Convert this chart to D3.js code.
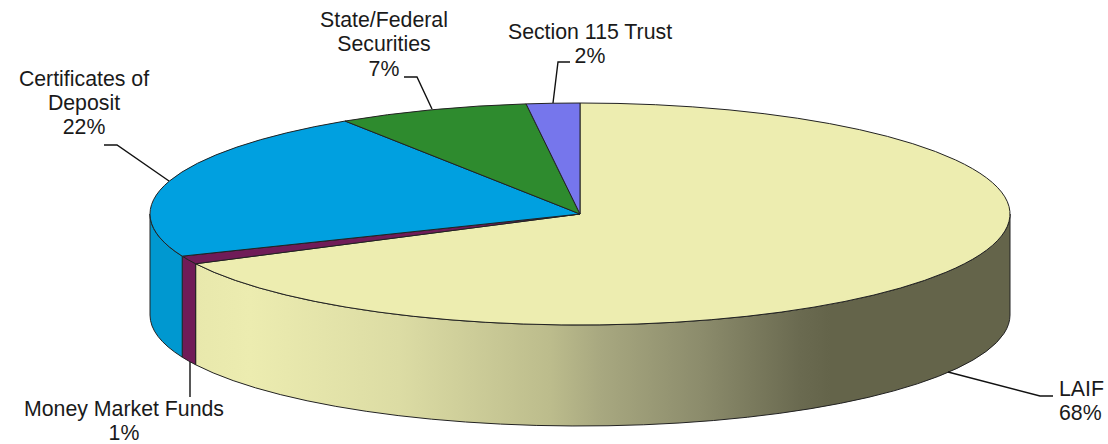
<!DOCTYPE html>
<html>
<head>
<meta charset="utf-8">
<script src="https://cdn.jsdelivr.net/npm/d3@7"></script>
<style>
  html, body { margin: 0; padding: 0; background: #fff; }
  text { font-family: "Liberation Sans", Arial, sans-serif; font-size: 21.3px; fill: #1a1a1a; }
</style>
</head>
<body>
<svg id="chart" width="1108" height="444"></svg>
<script>
// slice values, clockwise from 12 o'clock
const categories = ["LAIF", "Money Market Funds", "Certificates of Deposit", "State/Federal Securities", "Section 115 Trust"];
const sliceValues = [67.6, 1.2, 22.0, 7.2, 2.0];
const percentLabels = ["68%", "1%", "22%", "7%", "2%"];
const sliceColors = ["#ededb0", "#701c58", "#00a0e0", "#2e8b2e", "#7676ec"];

const svg = d3.select("#chart");

const cx = 580, cy = 214, rx = 430, ry = 111, depth = 101;

const xScale = d3.scaleLinear().domain([-1, 1]).range([cx - rx, cx + rx]);
const yScale = d3.scaleLinear().domain([-1, 1]).range([cy - ry, cy + ry]);

const slices = d3.pie().sort(null).value(d => d)(sliceValues);

// point on the top ellipse, angle is clockwise from 12 o'clock
const px = a => xScale(Math.sin(a));
const py = a => yScale(-Math.cos(a));

function topPath(d) {
    const large = d.endAngle - d.startAngle > Math.PI ? 1 : 0;
    return `M${cx},${cy}L${px(d.startAngle)},${py(d.startAngle)}` +
        `A${rx},${ry} 0 ${large} 1 ${px(d.endAngle)},${py(d.endAngle)}Z`;
}

// wall below the rim, only the part facing the viewer
function sidePath(d) {
    const a0 = Math.max(d.startAngle, Math.PI / 2);
    const a1 = Math.min(d.endAngle, Math.PI * 1.5);
    if (a0 >= a1) return null;
    return `M${px(a0)},${py(a0)}A${rx},${ry} 0 0 1 ${px(a1)},${py(a1)}` +
        `V${py(a1) + depth}A${rx},${ry} 0 0 0 ${px(a0)},${py(a0) + depth}Z`;
}

// shading of the LAIF wall
const defs = svg.append("defs");
const laifGrad = defs.append("linearGradient")
    .attr("id", "laifSide")
    .attr("gradientUnits", "userSpaceOnUse")
    .attr("x1", 195).attr("x2", 1010).attr("y1", 0).attr("y2", 0);
[[0, "#e8e8ac"], [0.067, "#ececb0"], [0.25, "#dcdca4"], [0.436, "#bcbc8c"], [0.497, "#a8a880"],
 [0.62, "#8c8c6c"], [0.742, "#6a6a50"], [0.78, "#64644a"], [1, "#64644a"]].forEach(s => {
    laifGrad.append("stop").attr("offset", s[0]).attr("stop-color", s[1]);
});

const sideColors = ["url(#laifSide)", "#701c58", "#0098d0", "#2e8b2e", "#7676ec"];

svg.append("g").selectAll("path")
    .data(slices.filter(d => sidePath(d)))
    .join("path")
    .attr("d", sidePath)
    .attr("fill", d => sideColors[d.index])
    .attr("stroke", "#222")
    .attr("stroke-width", 1);

svg.append("g").selectAll("path")
    .data(slices)
    .join("path")
    .attr("d", topPath)
    .attr("fill", d => sliceColors[d.index])
    .attr("stroke", "#222")
    .attr("stroke-width", 1)
    .attr("stroke-linejoin", "round");

// leader lines
const line = d3.line();
const leaders = [
    [[948, 372], [1040, 396], [1053, 396]],
    [[190, 362], [190, 397]],
    [[169, 181], [117, 145], [104, 145]],
    [[432, 109], [417, 77], [404, 77]],
    [[553, 103], [558, 62], [570, 62]]
];
svg.append("g").selectAll("path")
    .data(leaders)
    .join("path")
    .attr("d", line)
    .attr("fill", "none")
    .attr("stroke", "#111")
    .attr("stroke-width", 1.4);

// labels
const labelLines = [
    ["LAIF", percentLabels[0]],
    [categories[1], percentLabels[1]],
    ["Certificates of", "Deposit", percentLabels[2]],
    ["State/Federal", "Securities", percentLabels[3]],
    [categories[4], percentLabels[4]]
];
const labelSpots = [
    {x: 1059, y: 396, anchor: "start"},
    {x: 124, y: 416, anchor: "middle"},
    {x: 84, y: 85.5, anchor: "middle"},
    {x: 384, y: 27, anchor: "middle"},
    {x: 590, y: 38.5, anchor: "middle"}
];
const labels = svg.append("g").selectAll("text")
    .data(labelLines)
    .join("text")
    .attr("text-anchor", (d, i) => labelSpots[i].anchor);
labels.selectAll("tspan")
    .data((d, i) => d.map((t, j) => ({t, x: labelSpots[i].x, y: labelSpots[i].y + j * 24.4})))
    .join("tspan")
    .attr("x", d => d.x)
    .attr("y", d => d.y)
    .text(d => d.t);
</script>
</body>
</html>
